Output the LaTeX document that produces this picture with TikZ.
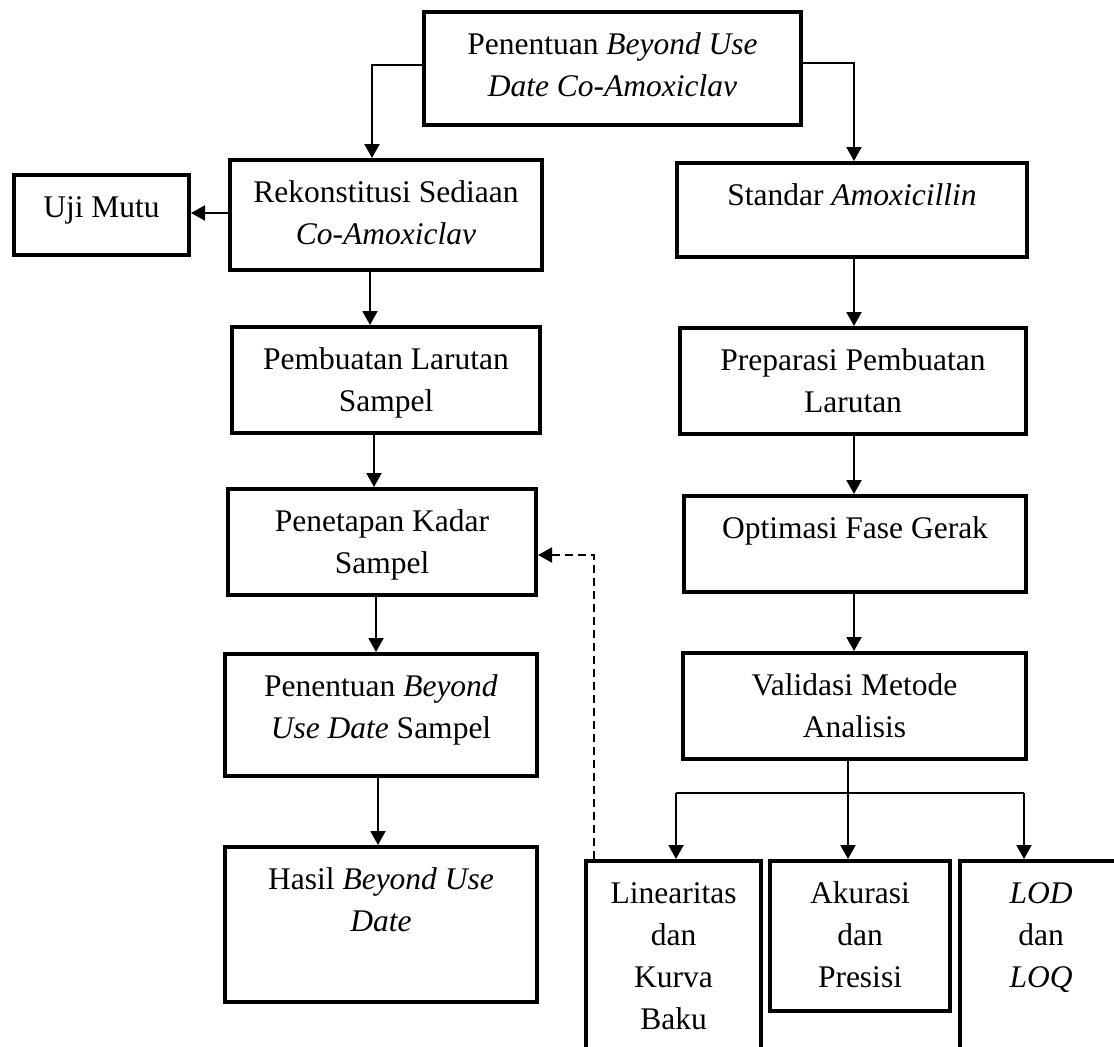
\documentclass[tikz,border=0pt]{standalone}
\usepackage{fontspec}
\setmainfont{Liberation Serif}
\usetikzlibrary{arrows.meta,calc}
\newcommand{\bxt}[3]{\parbox[c][#2pt][t]{#1pt}{\centering\rule{0pt}{42pt}#3}}
\begin{document}
\begin{tikzpicture}[x=1pt,y=-1pt,
  box/.style={draw,line width=4pt,inner sep=0pt,anchor=north west},
  arr/.style={line width=2pt,-{Triangle[width=15pt,length=14pt]}},
  dasharr/.style={line width=2pt,dash pattern=on 8pt off 5pt,-{Triangle[width=15pt,length=14pt]}},
  branchline/.style={line width=1.6pt},
  font=\fontsize{31.5}{42}\selectfont]
\useasboundingbox (0,0) rectangle (1114,1047);

\node[box] (top) at (422,10) {\bxt{377}{113}{Penentuan \textit{Beyond Use}\\\textit{Date Co-Amoxiclav}}};
\node[box] (uji) at (12,173) {\bxt{175}{80}{Uji Mutu}};
\node[box] (rek) at (228,158) {\bxt{312}{110}{Rekonstitusi Sediaan\\\textit{Co-Amoxiclav}}};
\node[box] (pem) at (230,325) {\bxt{308}{106}{Pembuatan Larutan\\Sampel}};
\node[box] (pen) at (226,487) {\bxt{308}{106}{Penetapan Kadar\\Sampel}};
\node[box] (bud) at (223,652) {\bxt{312}{122}{Penentuan \textit{Beyond}\\\textit{Use Date} Sampel}};
\node[box] (has) at (223,845) {\bxt{312}{155}{Hasil \textit{Beyond Use}\\\textit{Date}}};
\node[box] (std) at (675,161) {\bxt{350}{94}{Standar \textit{Amoxicillin}}};
\node[box] (prep) at (678,326) {\bxt{346}{106}{Preparasi Pembuatan\\Larutan}};
\node[box] (opt) at (682,494) {\bxt{342}{96}{Optimasi Fase Gerak}};
\node[box] (val) at (681,651) {\bxt{343}{106}{Validasi Metode\\Analisis}};
\node[box] (lin) at (584,859) {\bxt{175}{250}{Linearitas\\dan\\Kurva\\Baku}};
\node[box] (aku) at (768,859) {\bxt{180}{150}{Akurasi\\dan\\Presisi}};
\node[box] (lod) at (958,859) {\bxt{162}{250}{\textit{LOD}\\dan\\\textit{LOQ}}};

\draw[arr] ($(top.west)+(0,-3.5)$) -| ($(rek.north)+(-14,0)$);
\draw[arr] ($(top.east)+(0,-5.5)$) -| ($(std.north)+(2,0)$);
\draw[arr] ($(rek.west)+(0,-2)$) -- ($(uji.east)+(0,-2)$);
\draw[arr] ($(rek.south)+(-16,0)$) -- ($(rek.south |- pem.north)+(-16,0)$);
\draw[arr] ($(pem.south)+(-12,0)$) -- ($(pem.south |- pen.north)+(-12,0)$);
\draw[arr] ($(pen.south)+(-6,0)$) -- ($(pen.south |- bud.north)+(-6,0)$);
\draw[arr] ($(bud.south)+(-3,0)$) -- ($(bud.south |- has.north)+(-3,0)$);
\draw[arr] ($(std.south)+(2,0)$) -- ($(std.south |- prep.north)+(2,0)$);
\draw[arr] ($(prep.south)+(1,0)$) -- ($(prep.south |- opt.north)+(1,0)$);
\draw[arr] ($(opt.south)+(-1,0)$) -- ($(opt.south |- val.north)+(-1,0)$);
\draw[arr] ($(val.south)+(-6.5,0)$) -- ($(val.south |- aku.north)+(-6.5,0)$);
\coordinate (bl) at (676,793);
\coordinate (br) at (1024,793);
\draw[branchline] (bl) -- (br);
\draw[arr] (bl) -- (bl |- lin.north);
\draw[arr] (br) -- (br |- lod.north);
\draw[dasharr] ($(lin.north west)+(10,0)$) |- ($(pen.east)+(0,13)$);
\end{tikzpicture}
\end{document}
